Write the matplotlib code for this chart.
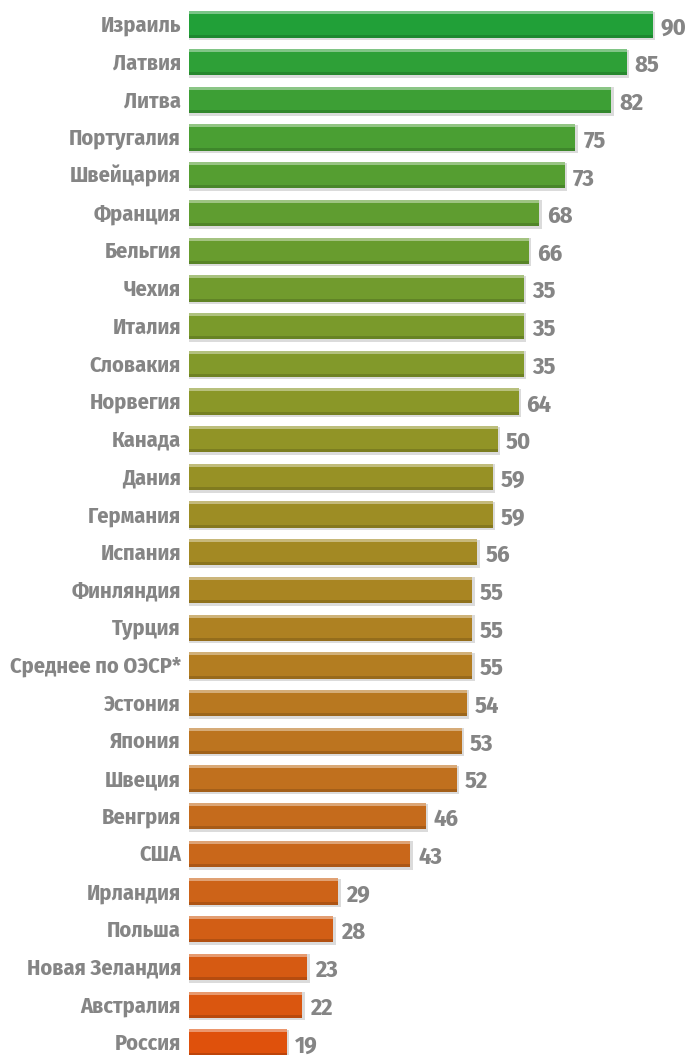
import matplotlib
matplotlib.use("Agg")
import matplotlib.pyplot as plt
from matplotlib import font_manager as fm

countries = ["Израиль", "Латвия", "Литва", "Португалия", "Швейцария", "Франция",
             "Бельгия", "Чехия", "Италия", "Словакия", "Норвегия", "Канада",
             "Дания", "Германия", "Испания", "Финляндия", "Турция",
             "Среднее по ОЭСР*", "Эстония", "Япония", "Швеция", "Венгрия", "США",
             "Ирландия", "Польша", "Новая Зеландия", "Австралия", "Россия"]
bar_values = [90, 85, 82, 75, 73, 68, 66, 65, 65, 65, 64, 60, 59, 59, 56, 55, 55,
              55, 54, 53, 52, 46, 43, 29, 28, 23, 22, 19]
value_labels = ["90", "85", "82", "75", "73", "68", "66", "35", "35", "35", "64", "50",
                "59", "59", "56", "55", "55", "55", "54", "53", "52", "46", "43",
                "29", "28", "23", "22", "19"]
colors = ["#21a038", "#2ea037", "#3d9f35", "#4a9f33", "#559e31", "#5f9d30", "#689c2e",
          "#719b2d", "#7a9a2b", "#82992a", "#8a9728", "#919426", "#979125", "#9d8d24",
          "#a38923", "#a98522", "#ae8122", "#b37d21", "#b87820", "#bc741f", "#c0701e",
          "#c56b1c", "#c9671a", "#cd6318", "#d25e15", "#d65a12", "#da560f", "#df510c"]

names = {f.name for f in fm.fontManager.ttflist}
if "Fira Sans Condensed" in names:
    font, stretch = "Fira Sans Condensed", "normal"
else:
    font, stretch = "DejaVu Sans", "condensed"

W, H = 685, 1055
fig = plt.figure(figsize=(W / 100, H / 100), dpi=100)
left = 189 / W
ax = fig.add_axes([left, 0, 1 - left, 1])
scale = 5.15  # px per unit
ax.set_xlim(0, (W - 189) / scale)
pitch = 37.7
top_c = 24.5
ax.set_ylim((H - top_c) / pitch, -top_c / pitch)
ax.axis("off")

n = len(countries)
ys = list(range(n))
bh = 0.70
u = 1 / pitch  # one pixel in data units (y)
ux = 1 / scale
# soft shadow
ax.barh([y + 1.5 * u for y in ys], [v + 0.45 for v in bar_values], height=bh + 2 * u,
        color="#b0b0b0", alpha=0.45, zorder=1)
# main bar
ax.barh(ys, bar_values, height=bh, color=colors, edgecolor="none", zorder=2)
# light top band
ax.barh([y - bh / 2 + 1.5 * u for y in ys], bar_values, height=3 * u,
        color="white", alpha=0.4, zorder=3)
# dark bottom edge
ax.barh([y + bh / 2 - 1.5 * u for y in ys], bar_values, height=3 * u,
        color="black", alpha=0.15, zorder=3)

gray = "#858585"
for y, c, v, lab in zip(ys, countries, bar_values, value_labels):
    ax.text(-8 * ux, y + 7.5 * u, c, ha="right", va="baseline", fontsize=16,
            fontweight="bold", color=gray, family=font, fontstretch=stretch)
    ax.text(v + 8 * ux, y + 10 * u, lab, ha="left", va="baseline", fontsize=17.5,
            fontweight="bold", color=gray, family=font, fontstretch=stretch)

fig.savefig("out.png", dpi=100)
